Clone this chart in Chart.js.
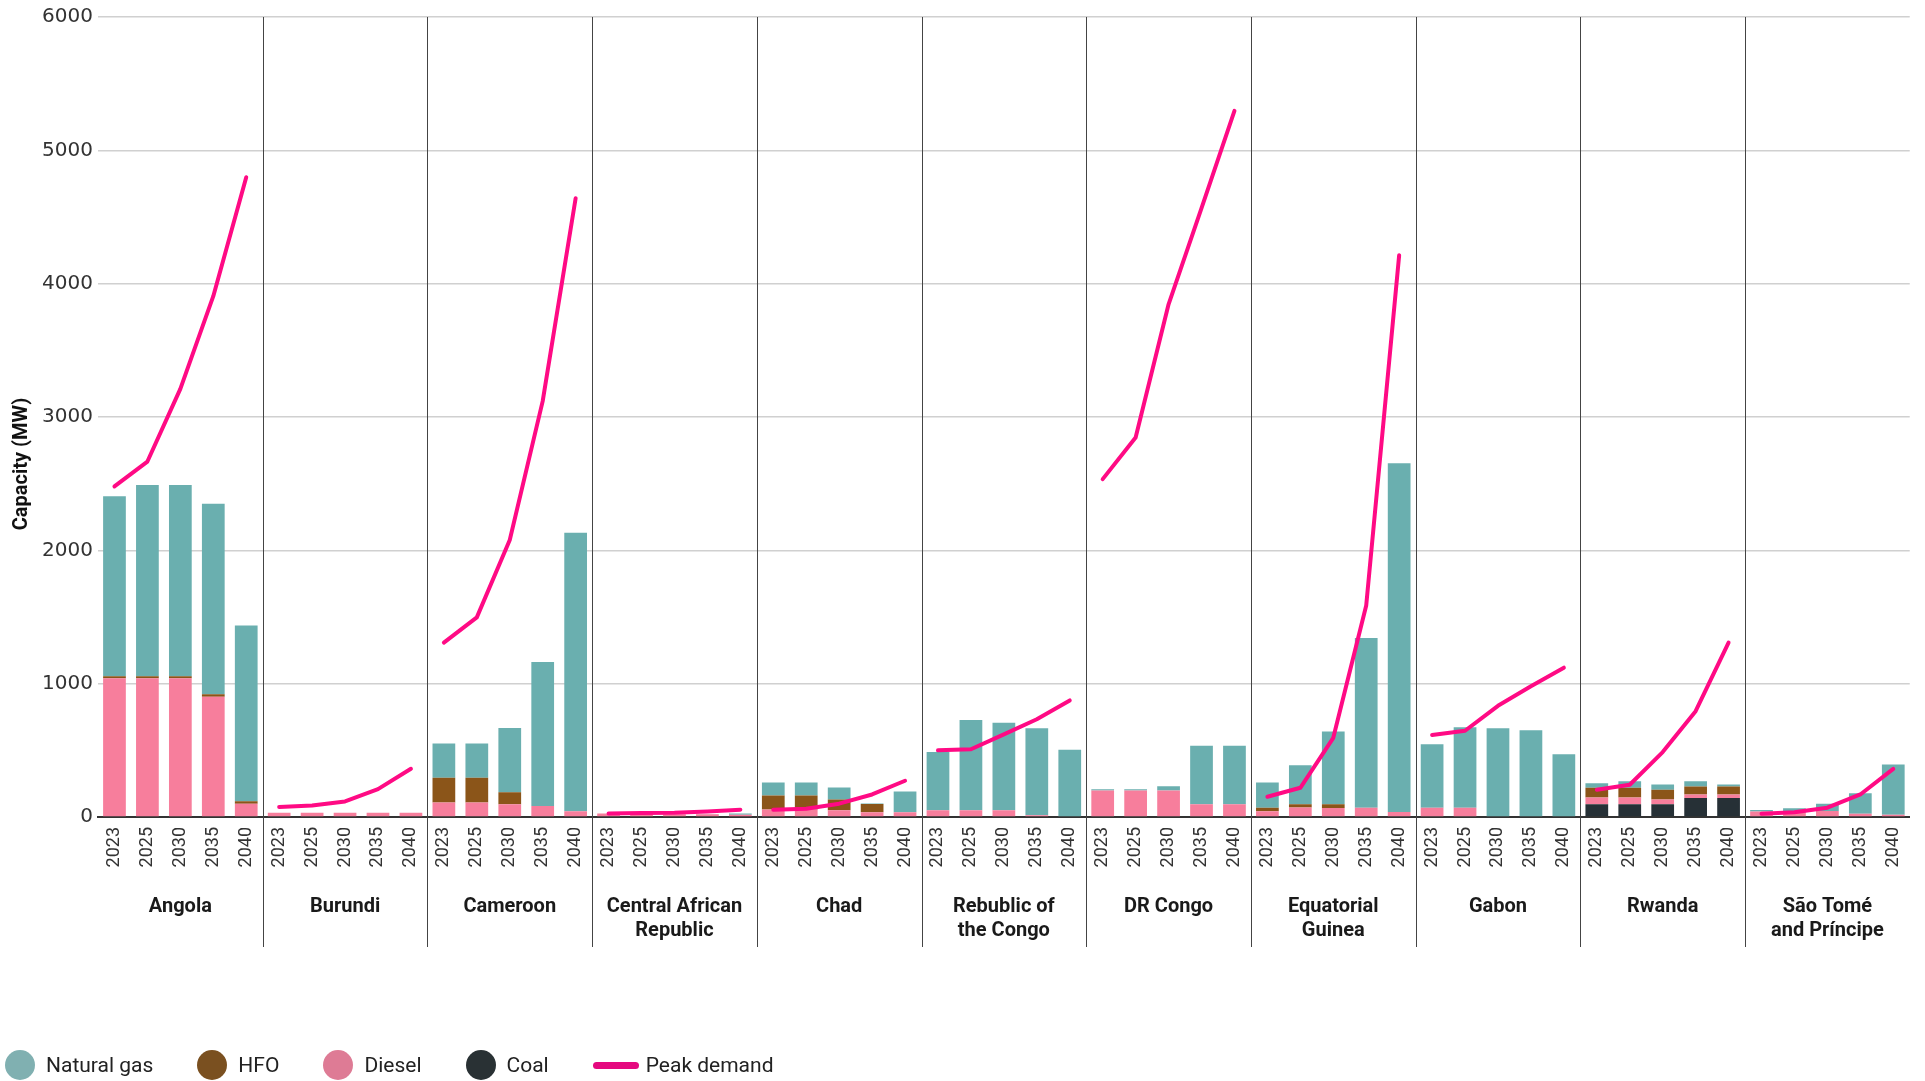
<!DOCTYPE html>
<html>
<head>
<meta charset="utf-8">
<script src="https://cdn.jsdelivr.net/npm/chart.js@4.4.1/dist/chart.umd.min.js"></script>
<style>
html,body{margin:0;padding:0;background:#fff;}
#wrap{position:relative;width:1925px;height:1081px;overflow:hidden;}
#c{position:absolute;left:0;top:0;}
#legend{position:absolute;left:5px;top:1050px;height:30px;display:flex;align-items:center;font-family:Roboto,"Liberation Sans",sans-serif;font-size:21px;color:#222;white-space:nowrap;}
.item{display:flex;align-items:center;margin-right:44px;}
.dot{width:30px;height:30px;border-radius:50%;margin-right:11px;}
.ln{width:46px;height:7px;border-radius:4px;margin-right:7px;}
</style>
</head>
<body>
<div id="wrap">
<canvas id="c" width="1925" height="1081"></canvas>
<div id="legend">
  <div class="item"><div class="dot" style="background:#80B0B1"></div><span>Natural gas</span></div>
  <div class="item"><div class="dot" style="background:#7A5020"></div><span>HFO</span></div>
  <div class="item"><div class="dot" style="background:#DE7B95"></div><span>Diesel</span></div>
  <div class="item"><div class="dot" style="background:#293134"></div><span>Coal</span></div>
  <div class="item"><div class="ln" style="background:#E5097F"></div><span>Peak demand</span></div>
</div>
</div>
<script>
// ---- categories ----
const countries = [
  'Angola', 'Burundi', 'Cameroon', ['Central African', 'Republic'], 'Chad',
  ['Rebublic of', 'the Congo'], 'DR Congo', ['Equatorial', 'Guinea'], 'Gabon', 'Rwanda',
  ['São Tomé', 'and Príncipe']
];
const years = ['2023', '2025', '2030', '2035', '2040'];
const yTicks = [0, 1000, 2000, 3000, 4000, 5000, 6000];

// ---- series (MW), 5 years per country in the order above ----
const naturalGas = [
  1350, 1435, 1435, 1429, 1317,
  0, 0, 0, 0, 0,
  257, 257, 483, 1080, 2088,
  0, 0, 0, 3, 10,
  97, 97, 90, 5, 157,
  436, 676, 655, 653, 505,
  11, 11, 32, 439, 439,
  189, 292, 546, 1272, 2616,
  475, 604, 666, 650, 471,
  35, 50, 40, 40, 15,
  10, 30, 55, 154, 377
];
const hfo = [
  15, 15, 15, 20, 20,
  0, 0, 0, 0, 0,
  186, 186, 89, 0, 0,
  0, 0, 0, 0, 0,
  105, 105, 82, 62, 0,
  0, 0, 0, 0, 0,
  0, 0, 0, 0, 0,
  27, 24, 29, 0, 0,
  0, 0, 0, 0, 0,
  72, 72, 72, 60, 60,
  0, 0, 0, 0, 0
];
const diesel = [
  1040, 1040, 1040, 901, 99,
  32, 32, 32, 32, 32,
  108, 108, 96, 83, 43,
  27, 20, 20, 20, 17,
  57, 57, 50, 35, 35,
  51, 51, 51, 13, 0,
  198, 198, 198, 96, 96,
  43, 72, 67, 70, 37,
  70, 70, 0, 0, 0,
  52, 52, 37, 27, 27,
  42, 35, 45, 25, 17
];
const coal = [
  0, 0, 0, 0, 0,
  0, 0, 0, 0, 0,
  0, 0, 0, 0, 0,
  0, 0, 0, 0, 0,
  0, 0, 0, 0, 0,
  0, 0, 0, 0, 0,
  0, 0, 0, 0, 0,
  0, 0, 0, 0, 0,
  0, 0, 0, 0, 0,
  95, 95, 95, 142, 142,
  0, 0, 0, 0, 0
];
const peakDemand = [
  2479, 2666, 3211, 3906, 4798,
  75, 87, 117, 209, 362,
  1308, 1497, 2078, 3119, 4641,
  27, 30, 32, 42, 55,
  55, 62, 100, 169, 272,
  500, 508, 620, 733, 874,
  2534, 2847, 3845, 4566, 5296,
  152, 219, 594, 1587, 4213,
  615, 647, 834, 981, 1120,
  204, 242, 487, 794, 1308,
  25, 35, 70, 169, 361
];

const xLabels = countries.flatMap(() => years);
const perGroup = years.length;

const PEAK = '#FF0A84';

const dividerPlugin = {
  id: 'dividers',
  afterDraw(chart) {
    const ctx = chart.ctx;
    const xs = chart.scales.x;
    const x2 = chart.scales.x2;
    const top = chart.chartArea.top;
    const bottom = x2.bottom - 6;
    ctx.save();
    ctx.strokeStyle = '#444';
    ctx.lineWidth = 1;
    for (let g = 1; g < countries.length; g++) {
      const i = g * perGroup;
      const px = (xs.getPixelForValue(i - 1) + xs.getPixelForValue(i)) / 2;
      const xx = Math.round(px) + 0.5;
      ctx.beginPath();
      ctx.moveTo(xx, top);
      ctx.lineTo(xx, bottom);
      ctx.stroke();
    }
    // y axis title
    ctx.fillStyle = '#111';
    ctx.font = 'bold 20px Roboto, "Liberation Sans", sans-serif';
    ctx.textAlign = 'center';
    ctx.textBaseline = 'middle';
    ctx.translate(22, 464);
    ctx.rotate(-Math.PI / 2);
    ctx.fillText('Capacity (MW)', 0, 0);
    ctx.restore();
  }
};

const barCommon = { stack: 'cap', barPercentage: 0.69, categoryPercentage: 1.0, borderWidth: 0, order: 2 };

new Chart(document.getElementById('c'), {
  type: 'bar',
  data: {
    labels: xLabels,
    datasets: [
      Object.assign({ label: 'Coal', data: coal, backgroundColor: '#263036' }, barCommon),
      Object.assign({ label: 'Diesel', data: diesel, backgroundColor: '#F77E9C' }, barCommon),
      Object.assign({ label: 'HFO', data: hfo, backgroundColor: '#8B5519' }, barCommon),
      Object.assign({ label: 'Natural gas', data: naturalGas, backgroundColor: '#6AAFAF' }, barCommon),
      {
        type: 'line', label: 'Peak demand', data: peakDemand, stack: 'peak', order: 0,
        borderColor: PEAK, borderWidth: 4, pointRadius: 0, tension: 0,
        borderCapStyle: 'round', borderJoinStyle: 'round', fill: false,
        segment: {
          borderColor: c => (c.p0DataIndex % perGroup === perGroup - 1) ? 'rgba(0,0,0,0)' : PEAK
        }
      }
    ]
  },
  options: {
    responsive: false,
    animation: false,
    devicePixelRatio: 1,
    layout: { padding: { left: 0, right: 14, top: 14, bottom: 128 } },
    plugins: { legend: { display: false }, tooltip: { enabled: false } },
    scales: {
      x: {
        stacked: true,
        weight: 0,
        grid: { display: false, drawTicks: false },
        border: { display: true, color: '#333', width: 2 },
        ticks: {
          autoSkip: false, maxRotation: 90, minRotation: 90, padding: 10,
          color: '#333', font: { family: 'Roboto, "Liberation Sans", sans-serif', size: 18 }
        },
        afterFit: s => { s.height = 66; }
      },
      x2: {
        type: 'category',
        position: 'bottom',
        weight: 1,
        labels: countries,
        offset: true,
        grid: { display: false, drawTicks: false },
        border: { display: false },
        ticks: {
          autoSkip: false, maxRotation: 0, minRotation: 0, padding: 12,
          color: '#1a1a1a', font: { family: 'Roboto, "Liberation Sans", sans-serif', size: 20, weight: 'bold', lineHeight: 1.2 }
        },
        afterFit: s => { s.height = 70; }
      },
      y: {
        stacked: true,
        min: 0, max: 6000,
        grid: { color: '#d0d0d0', lineWidth: 1.4, drawTicks: false },
        border: { display: false },
        ticks: {
          padding: 5, color: '#333',
          font: { family: '"DejaVu Sans", sans-serif', size: 20 },
          callback: v => String(v)
        },
        afterBuildTicks: s => { s.ticks = yTicks.map(v => ({ value: v })); },
        afterFit: s => { s.width = 98; }
      }
    }
  },
  plugins: [dividerPlugin]
});
</script>
</body>
</html>
